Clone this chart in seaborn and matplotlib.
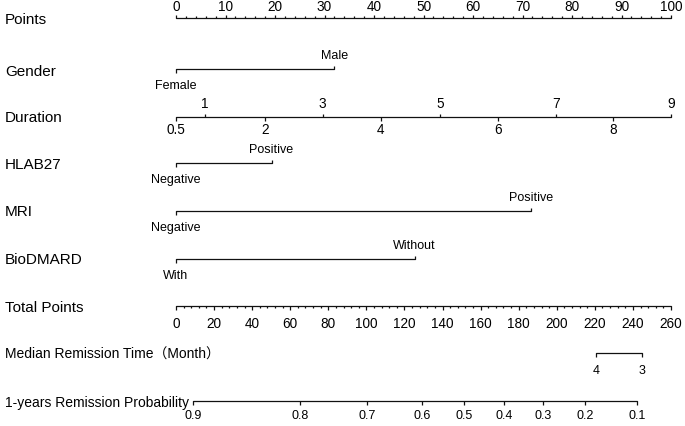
import matplotlib
matplotlib.use("Agg")
import matplotlib.pyplot as plt
import matplotlib.transforms as mtransforms
import seaborn as sns

sns.set_theme(style="white")
plt.rcParams['font.family'] = ['Liberation Sans', 'Noto Sans CJK SC', 'DejaVu Sans']

# 每个变量在 Points 轴上的位置（0-100）
row_names = ["Points", "Gender", "Duration", "HLAB27", "MRI", "BioDMARD",
             "Total Points", "Median Remission Time（Month）", "1-years Remission Probability"]

points_ticks = [0, 10, 20, 30, 40, 50, 60, 70, 80, 90, 100]

gender_labels = ["Female", "Male"]
gender_pts = [0, 32.0]

duration_labels = ["0.5", "1", "2", "3", "4", "5", "6", "7", "8", "9"]
duration_pts = [0, 5.9, 18.0, 29.6, 41.4, 53.3, 65.0, 76.7, 88.3, 100]

hlab_labels = ["Negative", "Positive"]
hlab_pts = [0, 19.3]

mri_labels = ["Negative", "Positive"]
mri_pts = [0, 71.7]

bio_labels = ["With", "Without"]
bio_pts = [0, 48.2]

total_ticks = [0, 20, 40, 60, 80, 100, 120, 140, 160, 180, 200, 220, 240, 260]
total_max = 260

median_labels = ["4", "3"]
median_total = [220.6, 244.8]

prob_labels = ["0.9", "0.8", "0.7", "0.6", "0.5", "0.4", "0.3", "0.2", "0.1"]
prob_total = [8.9, 65.1, 100.3, 129.2, 151.3, 172.3, 192.8, 214.8, 242.1]

# 画布：x 轴用 points 单位，y 轴用像素行
W, H = 685, 426
x0_px, px_per_pt = 176, 4.95
fig = plt.figure(figsize=(W / 100, H / 100), dpi=100)
ax = fig.add_axes([0, 0, 1, 1])
ax.set_xlim(-x0_px / px_per_pt, (W - x0_px) / px_per_pt)
ax.set_ylim(H, 0)
ax.axis("off")

row_y = [18, 69, 117, 163, 211, 259, 306, 353, 401]
label_y = [20, 72, 118, 165, 212, 260, 308, 355, 403]
lc = "#111111"
lw = 0.9
major_len = 3.5
minor_len = 1.8
tick_fs = 9
num_fs = 9.8
name_fs = 11

trans = mtransforms.blended_transform_factory(fig.transFigure, ax.transData)
for i, name in enumerate(row_names):
    fs = name_fs if i < 7 else 10
    ax.text(5 / W, label_y[i], name, transform=trans, fontsize=fs,
            ha="left", va="center", color="black")


def hline(xs, y):
    sns.lineplot(x=[min(xs), max(xs)], y=[y, y], ax=ax, color=lc, lw=lw,
                 estimator=None, sort=False)


def tick(x, y, up, length=major_len):
    ax.vlines(x, y, y - length if up else y + length, color=lc, lw=lw)


def label(x, y, txt, up, off=11, fs=num_fs):
    ax.text(x, y - off if up else y + off, txt, ha="center",
            va="center", fontsize=fs, color="black")


# Points
y = row_y[0]
hline(points_ticks, y)
for v in points_ticks:
    tick(v, y, True)
    label(v, y, str(v), True, off=11)
for k in range(0, 100):
    if k % 2 == 0 and k % 10 != 0:
        tick(k, y, True, minor_len)

# 分类变量：第一个标签在下方，第二个在上方
cat_rows = [(gender_labels, gender_pts, 1), (hlab_labels, hlab_pts, 3),
            (mri_labels, mri_pts, 4), (bio_labels, bio_pts, 5)]
for labs, pts, r in cat_rows:
    y = row_y[r]
    hline(pts, y)
    tick(pts[0], y, False)
    label(pts[0], y, labs[0], False, off=17, fs=tick_fs)
    tick(pts[1], y, True)
    label(pts[1], y, labs[1], True, off=13, fs=tick_fs)

# Duration：交替上下
y = row_y[2]
hline(duration_pts, y)
for j, (v, t) in enumerate(zip(duration_pts, duration_labels)):
    up = j % 2 == 1
    tick(v, y, up)
    label(v, y, t, up, off=13)

# Total Points
y = row_y[6]
tp = [v * 100 / total_max for v in total_ticks]
hline(tp, y)
for v, p in zip(total_ticks, tp):
    tick(p, y, False)
    label(p, y, str(v), False, off=18.5)
for k in range(0, total_max, 4):
    if k % 20 != 0:
        tick(k * 100 / total_max, y, False, minor_len)

# Median Remission Time
y = row_y[7]
mp = [v * 100 / total_max for v in median_total]
hline(mp, y)
for p, t in zip(mp, median_labels):
    tick(p, y, False)
    label(p, y, t, False, off=18.5, fs=9)

# 1-years Remission Probability
y = row_y[8]
pp = [v * 100 / total_max for v in prob_total]
hline(pp, y)
for p, t in zip(pp, prob_labels):
    tick(p, y, False)
    label(p, y, t, False, off=15, fs=9)

fig.savefig("out.png", dpi=100)
